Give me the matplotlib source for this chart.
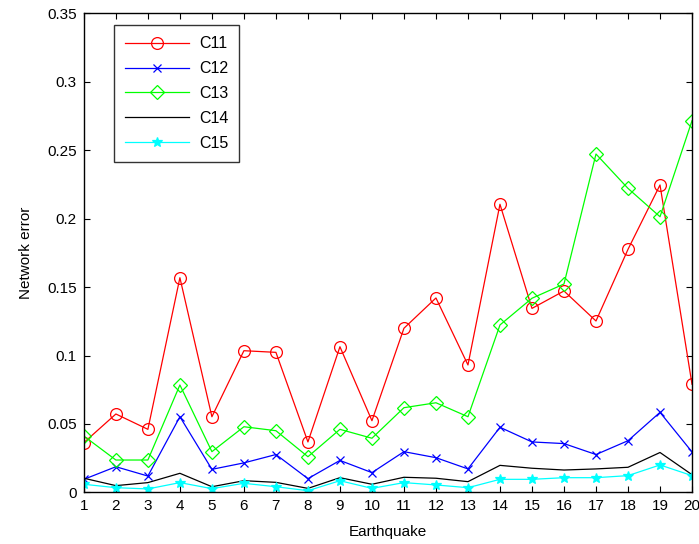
import matplotlib
matplotlib.use('Agg')
import matplotlib.pyplot as plt

plt.rcParams['font.family'] = ['Liberation Sans', 'DejaVu Sans']

earthquakes = list(range(1, 21))

c11 = [0.0364, 0.0573, 0.0461, 0.1568, 0.0553, 0.1035, 0.1023, 0.0369, 0.1064, 0.0524,
       0.1199, 0.1420, 0.0931, 0.2104, 0.1344, 0.1471, 0.1252, 0.1775, 0.2245, 0.0790]
c12 = [0.0096, 0.0188, 0.0120, 0.0553, 0.0169, 0.0216, 0.0277, 0.0101, 0.0234, 0.0145,
       0.0298, 0.0254, 0.0172, 0.0476, 0.0369, 0.0357, 0.0277, 0.0378, 0.0585, 0.0296]
c13 = [0.0412, 0.0237, 0.0237, 0.0785, 0.0298, 0.0480, 0.0451, 0.0261, 0.0461, 0.0396,
       0.0619, 0.0655, 0.0553, 0.1223, 0.1418, 0.1522, 0.2471, 0.2220, 0.2013, 0.2714]
c14 = [0.0104, 0.0050, 0.0072, 0.0140, 0.0042, 0.0086, 0.0074, 0.0030, 0.0108, 0.0060,
       0.0111, 0.0104, 0.0079, 0.0198, 0.0177, 0.0164, 0.0172, 0.0184, 0.0292, 0.0130]
c15 = [0.0060, 0.0035, 0.0026, 0.0072, 0.0028, 0.0067, 0.0042, 0.0013, 0.0086, 0.0030,
       0.0072, 0.0055, 0.0035, 0.0096, 0.0096, 0.0108, 0.0108, 0.0123, 0.0201, 0.0123]

fig = plt.figure(figsize=(6.99, 5.44), dpi=100)
ax = fig.add_axes([0.120, 0.0947, 0.870, 0.8813])

lw = 0.9
ax.plot(earthquakes, c11, color='#ff0000', marker='o', mfc='none', ms=8.5, mew=0.9, lw=lw, label='C11')
ax.plot(earthquakes, c12, color='#0000ff', marker='x', ms=5.5, mew=0.9, lw=lw, label='C12')
ax.plot(earthquakes, c13, color='#00ff00', marker='D', mfc='none', ms=7, mew=0.9, lw=lw, label='C13')
ax.plot(earthquakes, c14, color='#000000', lw=lw, label='C14')
ax.plot(earthquakes, c15, color='#00ffff', marker='*', ms=7, mew=0.9, lw=lw, label='C15')

ax.set_xlim(1, 20)
ax.set_ylim(0, 0.35)
ax.set_xticks(earthquakes)
ax.set_yticks([0, 0.05, 0.1, 0.15, 0.2, 0.25, 0.3, 0.35])
ax.set_yticklabels(['0', '0.05', '0.1', '0.15', '0.2', '0.25', '0.3', '0.35'])
ax.tick_params(direction='in', top=True, right=True, length=4, labelsize=11, pad=5, colors='#000000')
for s in ax.spines.values():
    s.set_linewidth(1.0)

ax.set_xlabel('Earthquake', fontsize=11, labelpad=8)
ax.set_ylabel('Network error', fontsize=11, labelpad=10)

leg = ax.legend(loc='upper left', bbox_to_anchor=(0.05, 0.975), borderaxespad=0, fontsize=11.5,
                frameon=True, fancybox=False, edgecolor='black', handlelength=4.0,
                borderpad=0.7, labelspacing=0.62, handletextpad=0.6)
leg.get_frame().set_linewidth(1.0)

fig.savefig('out.png', dpi=100, facecolor='white')
